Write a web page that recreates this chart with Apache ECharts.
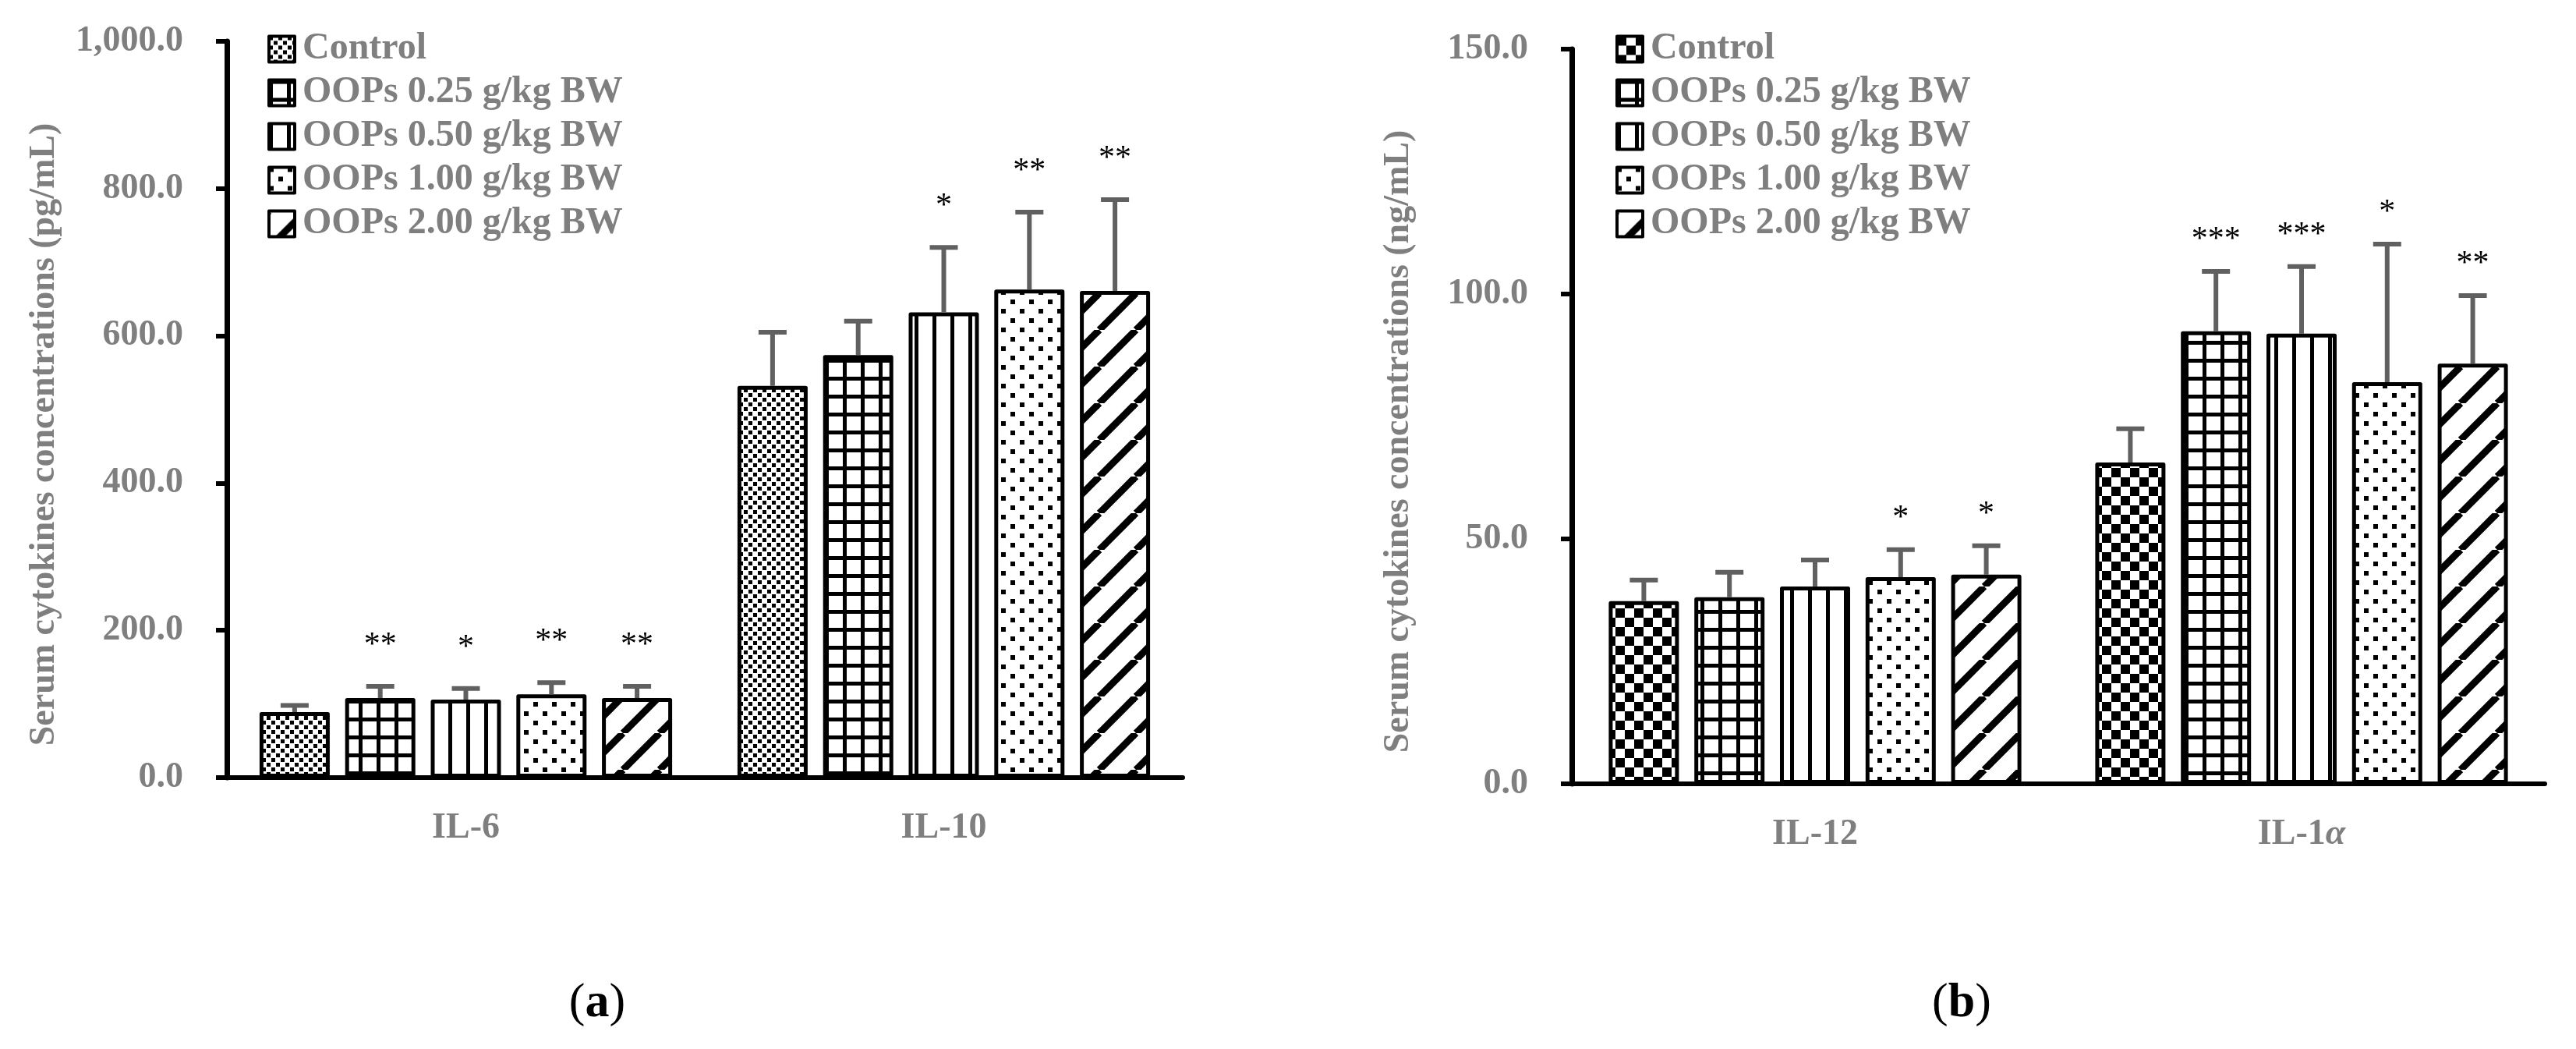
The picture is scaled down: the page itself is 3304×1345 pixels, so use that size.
<!DOCTYPE html>
<html>
<head>
<meta charset="utf-8">
<title>Serum cytokines</title>
<script src="https://cdn.jsdelivr.net/npm/echarts@6/dist/echarts.min.js"></script>
<style>
  html, body { margin: 0; padding: 0; background: #fff; }
  #wrap { width: 3304px; height: 1345px; position: relative; }
  #chartA, #chartB { position: absolute; top: 0; width: 1652px; height: 1345px; }
  #chartA { left: 0; }
  #chartB { left: 1652px; }
</style>
</head>
<body>
<div id="wrap">
  <div id="chartA"></div>
  <div id="chartB"></div>
</div>
<script>
// groups shown in both panels
const groups = ['Control', 'OOPs 0.25 g/kg BW', 'OOPs 0.50 g/kg BW', 'OOPs 1.00 g/kg BW', 'OOPs 2.00 g/kg BW']

// panel (a), pg/mL
const catsA = ['IL-6', 'IL-10']
const meanA = [[89, 532], [108, 574], [106, 632], [113, 663], [108, 661]]
const upperA = [[98, 605], [124, 620], [121, 720], [129, 768], [124, 785]]
const starsA = [['', ''], ['**', ''], ['*', '*'], ['**', '**'], ['**', '**']]
const ticksA = [0, 200, 400, 600, 800, 1000]

// panel (b), ng/mL
const catsB = ['IL-12', 'IL-1α']
const meanB = [[37.3, 65.6], [38.1, 92.4], [40.3, 91.9], [42.2, 82.0], [42.7, 85.8]]
const upperB = [[41.6, 72.5], [43.2, 104.6], [45.7, 105.6], [47.8, 110.2], [48.6, 99.7]]
const starsB = [['', ''], ['', '***'], ['', '***'], ['*', '*'], ['*', '**']]
const ticksB = [0, 50, 100, 150]

const FONT = "'Liberation Serif', 'Times New Roman', serif"
const GRAY = '#7f7f7f'
const BAR_W = 90
const BAR_GAP = 0.22

// fill patterns drawn on small canvases
function tile(w, h, draw) {
  const c = document.createElement('canvas')
  c.width = w; c.height = h
  const g = c.getContext('2d')
  g.fillStyle = '#fff'
  g.fillRect(0, 0, w, h)
  g.fillStyle = '#000'
  g.strokeStyle = '#000'
  draw(g)
  return { image: c, repeat: 'repeat' }
}
const patSmallDiamond = tile(12, 12, g => { g.fillRect(0, 0, 5, 5); g.fillRect(6, 6, 5, 5) })
const patChecker = tile(24, 24, g => { g.fillRect(0, 0, 12, 12); g.fillRect(12, 12, 12, 12) })
const patGrid = tile(23, 23, g => { g.fillRect(0, 0, 5, 23); g.fillRect(0, 0, 23, 5) })
const patVert = tile(23, 4, g => { g.fillRect(0, 0, 5, 4) })
const patDots = tile(24, 24, g => { g.fillRect(0, 0, 6, 6); g.fillRect(12, 12, 6, 6) })
const patDiag = tile(47, 47, g => {
  g.lineWidth = 9
  for (const x0 of [-47, 0, 47]) {
    g.beginPath(); g.moveTo(x0, 47); g.lineTo(x0 + 47, 0); g.stroke()
  }
})

function buildOption(cfg) {
  const series = groups.map((name, k) => ({
    name: name,
    type: 'bar',
    xAxisIndex: 0,
    yAxisIndex: 0,
    barWidth: BAR_W,
    barGap: (BAR_GAP * 100) + '%',
    data: cfg.mean[k],
    itemStyle: {
      color: cfg.patterns[k],
      borderColor: '#000',
      borderWidth: 5,
      borderJoin: 'round'
    },
    z: 2
  }))

  // error bar + significance stars
  const errData = []
  const starText = []
  groups.forEach((name, k) => {
    cfg.cats.forEach((c, i) => {
      errData.push([i, k, cfg.mean[k][i], cfg.upper[k][i]])
      starText.push(cfg.stars[k][i])
    })
  })
  const step = BAR_W * (1 + BAR_GAP)
  series.push({
    type: 'custom',
    data: errData,
    encode: { x: 0, y: 3 },
    clip: false,
    z: 5,
    silent: true,
    renderItem: function (params, api) {
      const i = api.value(0)
      const k = api.value(1)
      const top = api.coord([i, api.value(3)])
      const base = api.coord([i, api.value(2)])
      const x = top[0] + (k - 2) * step
      const style = { stroke: '#606060', lineWidth: 6 }
      const children = [
        { type: 'line', shape: { x1: x, y1: base[1], x2: x, y2: top[1] }, style: style },
        { type: 'line', shape: { x1: x - 18, y1: top[1], x2: x + 18, y2: top[1] }, style: style }
      ]
      const s = starText[params.dataIndex]
      if (s) {
        children.push({
          type: 'text',
          x: x,
          y: top[1] - cfg.starGap + 8,
          style: {
            text: s, fill: '#000', font: '42px ' + FONT,
            textAlign: 'center', textVerticalAlign: 'middle'
          }
        })
      }
      return { type: 'group', children: children }
    }
  })

  return {
    animation: false,
    textStyle: { fontFamily: FONT },
    grid: cfg.grid,
    legend: {
      data: groups,
      orient: 'vertical',
      left: cfg.legendLeft,
      top: 34,
      itemWidth: 33,
      itemHeight: 33,
      itemGap: 8,
      icon: 'rect',
      selectedMode: false,
      itemStyle: { borderColor: '#000', borderWidth: 4 },
      textStyle: { color: GRAY, fontSize: 48, fontWeight: 'bold', fontFamily: FONT, padding: [0, 0, 0, 5] }
    },
    xAxis: {
      type: 'category',
      data: cfg.cats,
      axisLine: { lineStyle: { color: '#000', width: 6 } },
      axisTick: { show: false },
      axisLabel: {
        color: GRAY, fontSize: 46, fontWeight: 'bold', fontFamily: FONT, margin: 42,
        formatter: v => v.replace('α', '{i|α}'),
        rich: { i: { color: GRAY, fontSize: 46, fontWeight: 'bold', fontStyle: 'italic', fontFamily: FONT } }
      }
    },
    yAxis: {
      type: 'value',
      min: cfg.ticks[0],
      max: cfg.ticks[cfg.ticks.length - 1],
      interval: cfg.ticks[1] - cfg.ticks[0],
      name: cfg.yName,
      nameLocation: 'middle',
      nameGap: cfg.nameGap,
      nameTextStyle: { color: GRAY, fontSize: 46, fontWeight: 'bold', fontFamily: FONT, padding: [0, 64, 0, 0] },
      axisLine: { show: true, lineStyle: { color: '#000', width: 7 } },
      axisTick: { show: true, length: 14, lineStyle: { color: '#000', width: 6 } },
      splitLine: { show: false },
      axisLabel: {
        color: GRAY, fontSize: 46, fontWeight: 'bold', fontFamily: FONT, margin: 56,
        formatter: v => v.toLocaleString('en-US', { minimumFractionDigits: 1, maximumFractionDigits: 1 })
      }
    },
    graphic: [{
      type: 'text',
      x: cfg.captionX,
      y: 1287,
      style: {
        text: '{p|(}{b|' + cfg.caption + '}{p|)}',
        textAlign: 'center',
        textVerticalAlign: 'middle',
        rich: {
          p: { fontSize: 62, fontFamily: FONT, fill: '#000', color: '#000' },
          b: { fontSize: 62, fontFamily: FONT, fontWeight: 'bold', fill: '#000', color: '#000' }
        }
      }
    }],
    series: series
  }
}

const chartA = echarts.init(document.getElementById('chartA'))
chartA.setOption(buildOption({
  cats: catsA, mean: meanA, upper: upperA, stars: starsA, ticks: ticksA,
  patterns: [patSmallDiamond, patGrid, patVert, patDots, patDiag],
  grid: { left: 291, right: 135, top: 53, bottom: 348 },
  legendLeft: 338,
  yName: 'Serum cytokines concentrations (pg/mL)',
  nameGap: 211,
  starGap: 60,
  caption: 'a',
  captionX: 766
}))

const chartB = echarts.init(document.getElementById('chartB'))
chartB.setOption(buildOption({
  cats: catsB, mean: meanB, upper: upperB, stars: starsB, ticks: ticksB,
  patterns: [patChecker, patGrid, patVert, patDots, patDiag],
  grid: { left: 364, right: 40, top: 63, bottom: 340 },
  legendLeft: 415,
  yName: 'Serum cytokines concentrations (ng/mL)',
  nameGap: 199,
  starGap: 48,
  caption: 'b',
  captionX: 864
}))
</script>
</body>
</html>
